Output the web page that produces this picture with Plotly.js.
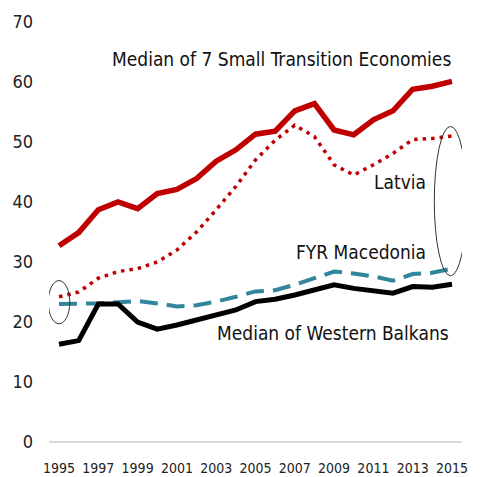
<!DOCTYPE html>
<html>
<head>
<meta charset="utf-8">
<script src="https://cdn.plot.ly/plotly-3.0.1.min.js"></script>
<style>html,body{margin:0;padding:0;background:#fff;}#chart{width:480px;height:477px;}</style>
</head>
<body>
<div id="chart"></div>
<script>
const years = [1995,1996,1997,1998,1999,2000,2001,2002,2003,2004,2005,2006,2007,2008,2009,2010,2011,2012,2013,2014,2015];
const smallTransition = [32.7,34.9,38.7,40.0,38.9,41.4,42.1,43.9,46.8,48.7,51.3,51.8,55.2,56.4,52.0,51.2,53.7,55.2,58.8,59.3,60.1];
const latvia = [24.2,25.0,27.3,28.4,28.9,30.0,32.0,35.0,38.7,42.6,47.0,50.3,52.8,50.9,46.2,44.5,46.2,48.1,50.4,50.6,51.0];
const macedonia = [23.0,23.0,23.1,23.3,23.5,23.1,22.6,22.8,23.4,24.2,25.1,25.3,26.2,27.3,28.4,28.1,27.6,26.9,28.0,28.2,28.9];
const westernBalkans = [16.3,16.9,23.0,23.0,20.0,18.8,19.5,20.4,21.2,22.0,23.4,23.8,24.5,25.3,26.2,25.6,25.3,24.8,25.9,25.8,26.3];
const xTickLabels = ['1995','1997','1999','2001','2003','2005','2007','2009','2011','2013','2015'];
const yTicks = [0,10,20,30,40,50,60,70];
const labels = ['Median of 7 Small Transition Economies','Latvia','FYR Macedonia','Median of Western Balkans'];

const FONT = '"DejaVu Sans Condensed", "Liberation Sans", Arial, sans-serif';
const n = years.length - 1;

const traces = [
  {x: years, y: smallTransition, mode: 'lines', line: {color: '#C00000', width: 5.5}},
  {x: years, y: latvia, mode: 'lines', line: {color: '#C00000', width: 3.5, dash: '3.5px,5px'}},
  {x: years, y: macedonia, mode: 'lines', line: {color: '#31859C', width: 4, dash: '18px,9px'}},
  {x: years, y: westernBalkans, mode: 'lines', line: {color: '#000000', width: 5}}
];

const layout = {
  width: 480, height: 477,
  margin: {l: 49, r: 18, t: 22, b: 35},
  showlegend: false,
  paper_bgcolor: '#fff', plot_bgcolor: '#fff',
  font: {family: FONT, color: '#222'},
  xaxis: {
    range: [1994.49, 2015.51], tickmode: 'array',
    tickvals: xTickLabels.map(Number), ticktext: xTickLabels,
    showgrid: false, zeroline: false, showline: false, ticks: '',
    ticklabelstandoff: 16,
    tickfont: {size: 14, family: FONT, color: '#222'}
  },
  yaxis: {
    range: [0, 70], tickmode: 'array', tickvals: yTicks, ticktext: yTicks.map(String),
    showgrid: false, zeroline: true, zerolinecolor: '#d9d9d9', zerolinewidth: 2,
    showline: false, ticks: '', ticklabelstandoff: 15,
    tickfont: {size: 18, family: FONT, color: '#222'}
  },
  annotations: [
    {x: 2015.05, y: 63.8, xref: 'x', yref: 'y', text: labels[0], showarrow: false, xanchor: 'right', yanchor: 'middle', font: {size: 19, family: FONT, color: '#111'}},
    {x: 2013.8, y: 43.3, xref: 'x', yref: 'y', text: labels[1], showarrow: false, xanchor: 'right', yanchor: 'middle', font: {size: 19, family: FONT, color: '#111'}},
    {x: 2013.8, y: 31.6, xref: 'x', yref: 'y', text: labels[2], showarrow: false, xanchor: 'right', yanchor: 'middle', font: {size: 19, family: FONT, color: '#111'}},
    {x: 2014.95, y: 18.2, xref: 'x', yref: 'y', text: labels[3], showarrow: false, xanchor: 'right', yanchor: 'middle', font: {size: 19, family: FONT, color: '#111'}}
  ],
  shapes: [
    {type: 'circle', xref: 'x', yref: 'y', x0: years[0] - 0.55, x1: years[0] + 0.55,
     y0: macedonia[0] - 3.3, y1: latvia[0] + 2.7, line: {color: '#333', width: 1}},
    {type: 'circle', xref: 'x', yref: 'y', x0: years[n] - 0.9, x1: years[n] + 0.75,
     y0: macedonia[n] - 1.2, y1: latvia[n] + 1.6, line: {color: '#333', width: 1}}
  ]
};

Plotly.newPlot('chart', traces, layout, {staticPlot: true, displayModeBar: false});
</script>
</body>
</html>
